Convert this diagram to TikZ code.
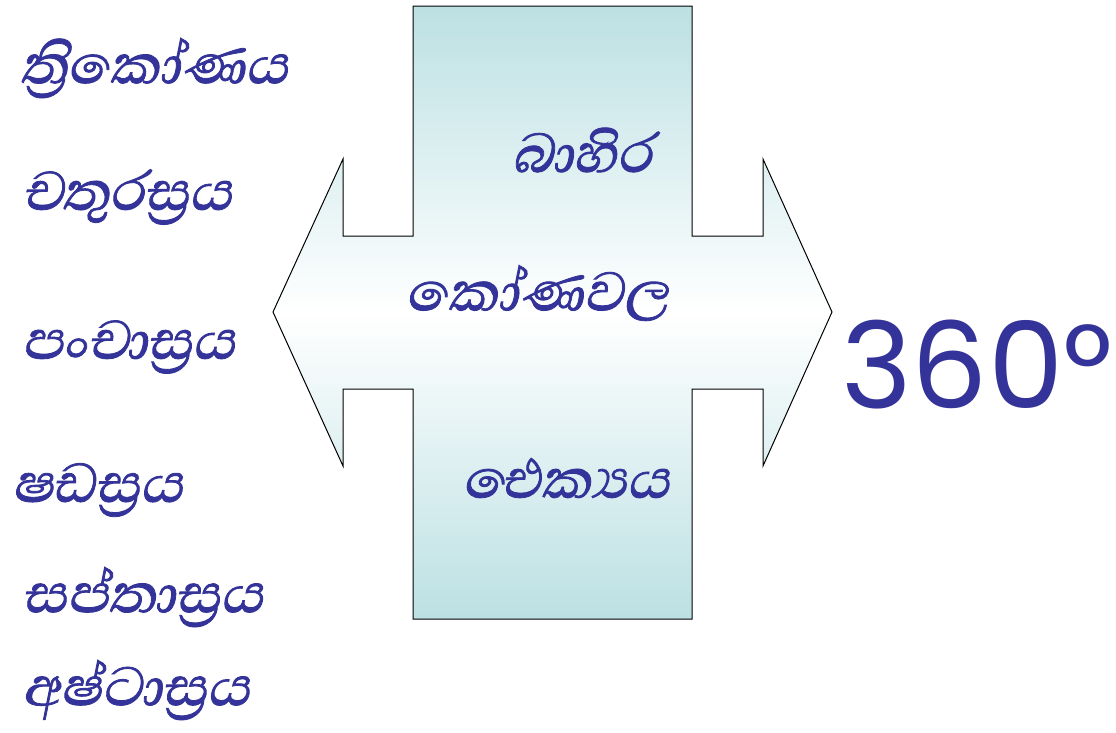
\documentclass[tikz,border=0pt]{standalone}
\usepackage{fontspec}
\newfontfamily\sinhfont[Script=Sinhala,FakeSlant=0.2,FakeBold=1.2]{Abhaya Libre}
\newfontfamily\numfont{Poppins}
\definecolor{txtblue}{HTML}{333399}
\definecolor{tealfill}{HTML}{BCE0E3}
\tikzset{
  word/.style={text=txtblue,font=\sinhfont\fontsize{70}{80}\selectfont,inner sep=0pt},
  leftword/.style={word,anchor=west},
  plusarrow/.style={draw=black,line width=1pt,top color=tealfill,bottom color=tealfill,middle color=white}
}
\begin{document}
\begin{tikzpicture}[x=1pt,y=-1pt]
\useasboundingbox (0,0) rectangle (1116,732);
\path[plusarrow] (413,6) -- (692,6) -- (692,236) -- (763,236) -- (763,159) -- (832,312) -- (763,466) -- (763,389) -- (692,389) -- (692,619) -- (413,619) -- (413,389) -- (343,389) -- (343,466) -- (273,312) -- (343,159) -- (343,236) -- (413,236) -- cycle;
\node[leftword] (w1) at (20,68) {ත්‍රිකෝණය};
\node[leftword] (w2) at (22,197) {චතුරස්‍රය};
\node[leftword] (w3) at (22,347) {පංචාස්‍රය};
\node[leftword] (w4) at (12,490) {ෂඩස්‍රය};
\node[leftword] (w5) at (22,597) {සප්තාස්‍රය};
\node[leftword] (w6) at (22,690) {අෂ්ටාස්‍රය};
\node[word] (c1) at (582,150) {බාහිර};
\node[word] (c2) at (537,293) {කෝණවල};
\node[word] (c3) at (566,478) {ඓක්‍යය};
\node[text=txtblue,font=\numfont\fontsize{120}{140}\selectfont,inner sep=0pt] (n) at (977,365) {360°};
\end{tikzpicture}
\end{document}
